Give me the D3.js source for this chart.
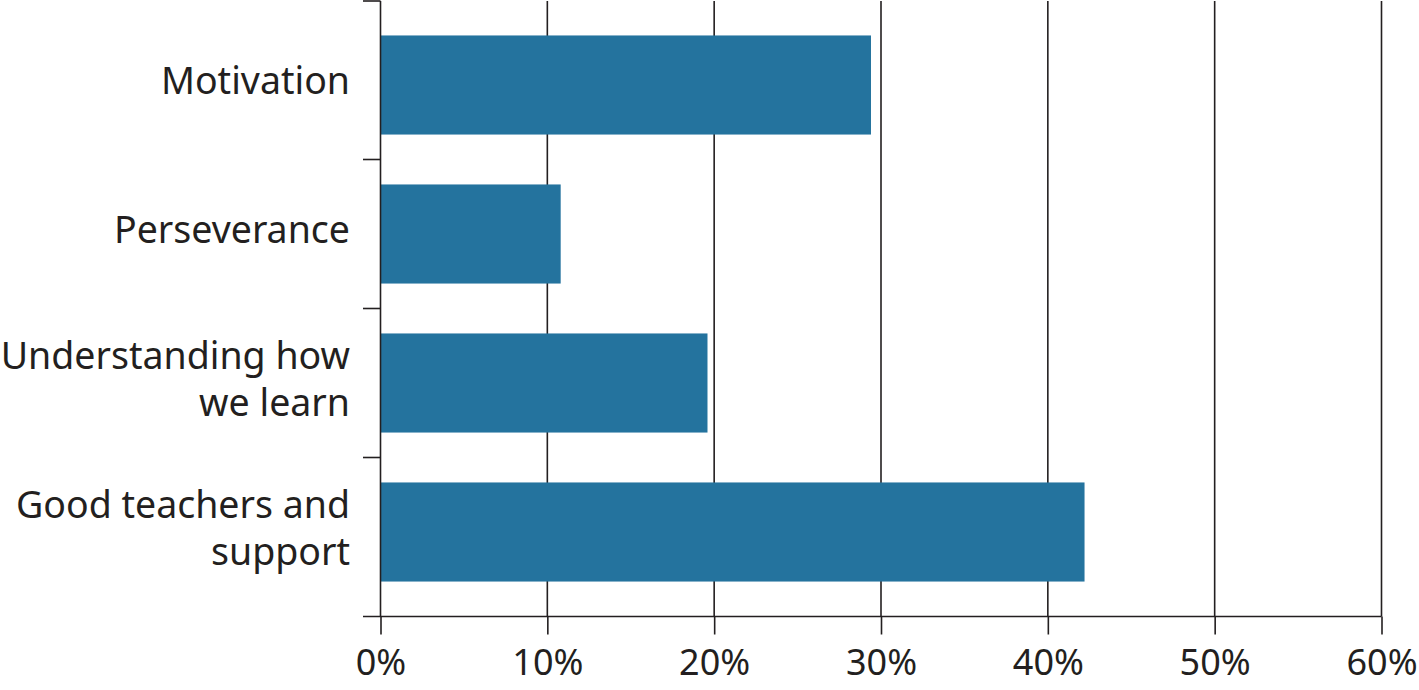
<!DOCTYPE html>
<html>
<head>
<meta charset="utf-8">
<script src="https://cdn.jsdelivr.net/npm/d3@7"></script>
<style>
  body { margin: 0; background: #fff; }
  text { font-family: "Noto Sans", "Open Sans", sans-serif; fill: #231f20; }
</style>
</head>
<body>
<svg id="chart" width="1419" height="690"></svg>
<script>
// data
const categories = ["Motivation", "Perseverance", "Understanding how we learn", "Good teachers and support"];
const labelLines = [["Motivation"], ["Perseverance"], ["Understanding how", "we learn"], ["Good teachers and", "support"]];
const values = [29.4, 10.8, 19.6, 42.2];
const xTicks = [0, 10, 20, 30, 40, 50, 60];

const svg = d3.select("#chart");
const plotLeft = 380.5, plotRight = 1381.5, plotTop = 1, plotBottom = 616.5;
const ink = "#231f20";

const x = d3.scaleLinear().domain([0, 60]).range([plotLeft, plotRight]);
const y = d3.scaleBand()
    .domain(categories)
    .range([10.5, 606.5])
    .paddingInner(0.335)
    .paddingOuter(0.1675);

// gridlines
svg.append("g").selectAll("line")
  .data(xTicks.slice(1))
  .join("line")
    .attr("x1", d => x(d)).attr("x2", d => x(d))
    .attr("y1", plotTop).attr("y2", plotBottom)
    .attr("stroke", ink).attr("stroke-width", 1.6);

// bars
svg.append("g").selectAll("rect")
  .data(categories)
  .join("rect")
    .attr("x", x(0))
    .attr("y", d => y(d))
    .attr("width", (d, i) => x(values[i]) - x(0))
    .attr("height", y.bandwidth())
    .attr("fill", "#24739e");

// x axis
const xAxis = svg.append("g")
    .attr("transform", `translate(0, ${plotBottom})`)
    .call(d3.axisBottom(x).tickValues(xTicks).tickFormat(d => d + "%").tickSize(18).tickSizeOuter(0));
xAxis.select(".domain").remove();
xAxis.append("line")
    .attr("x1", 363).attr("x2", plotRight)
    .attr("stroke", ink).attr("stroke-width", 1.6);
xAxis.selectAll(".tick line").attr("stroke", ink).attr("stroke-width", 1.6);
xAxis.selectAll(".tick text")
    .attr("y", 58.5)
    .attr("dy", 0)
    .attr("font-size", 36)
    .attr("font-family", "Noto Sans")
    .attr("fill", ink);

// y axis line and separators
const gap = y.step() * y.paddingInner();
const seps = [plotTop].concat(categories.slice(1).map(d => y(d) - gap / 2));
svg.append("line")
    .attr("x1", plotLeft).attr("x2", plotLeft)
    .attr("y1", plotTop).attr("y2", plotBottom)
    .attr("stroke", ink).attr("stroke-width", 1.6);
svg.append("g").selectAll("line")
  .data(seps)
  .join("line")
    .attr("x1", 363).attr("x2", plotLeft)
    .attr("y1", d => d).attr("y2", d => d)
    .attr("stroke", ink).attr("stroke-width", 1.6);

// category labels
const lineH = 47;
svg.append("g").selectAll("text")
  .data(categories)
  .join("text")
    .attr("text-anchor", "end")
    .attr("font-size", 37.5)
    .each(function (d, i) {
      const lines = labelLines[i];
      const cy = y(d) + y.bandwidth() / 2;
      const y0 = cy - (lines.length - 1) * lineH / 2 + 9;
      d3.select(this).selectAll("tspan")
        .data(lines)
        .join("tspan")
          .attr("x", 350)
          .attr("y", (t, j) => y0 + j * lineH)
          .text(t => t);
    });
</script>
</body>
</html>
